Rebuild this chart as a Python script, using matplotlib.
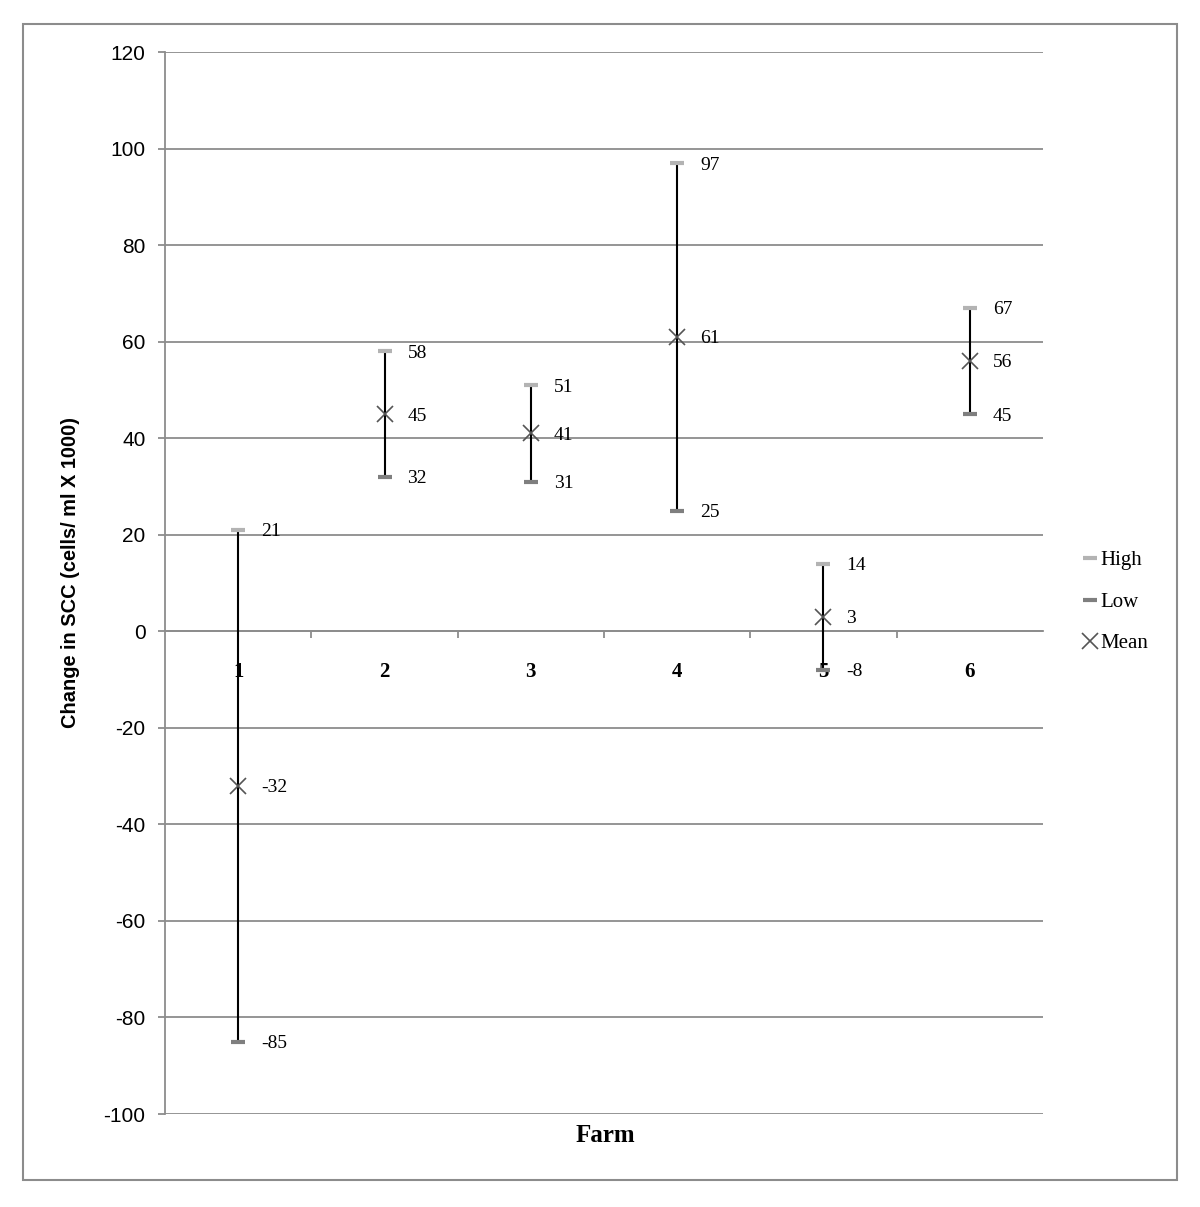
import matplotlib.pyplot as plt
from matplotlib.patches import Rectangle
import numpy as np

plt.rcParams['axes.unicode_minus'] = False

farms = ['1', '2', '3', '4', '5', '6']
high = [21, 58, 51, 97, 14, 67]
low = [-85, 32, 31, 25, -8, 45]
mean = [-32, 45, 41, 61, 3, 56]

grid_col = '#8c8c8c'
serif = 'Liberation Serif'
sans = 'Liberation Sans'

fig = plt.figure(figsize=(12, 12.07), dpi=100)
ax = fig.add_axes([165/1200, 1 - 1114/1207, 878/1200, 1062/1207])

# outer frame round the whole chart
fig.patches.append(Rectangle((23/1200, 1 - 1180/1207), 1154/1200, 1156/1207,
                             transform=fig.transFigure, fill=False,
                             edgecolor=grid_col, linewidth=1.5))

x = np.arange(len(farms))
ax.vlines(x, low, high, color='black', linewidth=1.5, zorder=3)
ax.plot(x, high, linestyle='none', marker='_', markersize=9.5,
        markeredgewidth=3, color='#b3b3b3', label='High', zorder=4)
ax.plot(x, low, linestyle='none', marker='_', markersize=9.5,
        markeredgewidth=3, color='#7f7f7f', label='Low', zorder=4)
ax.plot(x, mean, linestyle='none', marker='x', markersize=12,
        markeredgewidth=1.2, color='#555555', label='Mean', zorder=5)

for xi, vals in zip(x, zip(high, low, mean)):
    for v in vals:
        ax.annotate(str(v), (xi, v), xytext=(23, -2), textcoords='offset pixels',
                    ha='left', va='center', fontsize=14, family=serif)

ax.set_xlim(-0.5, 5.5)
ax.set_ylim(-100, 120)
ax.set_yticks(np.arange(-100, 121, 20))
ax.grid(axis='y', color=grid_col, linewidth=1.3)
ax.set_axisbelow(True)

for s in ['top', 'right']:
    ax.spines[s].set_visible(False)
ax.spines['bottom'].set_position(('data', 0))
ax.spines['bottom'].set_color(grid_col)
ax.spines['bottom'].set_linewidth(1.3)
ax.spines['left'].set_color(grid_col)
ax.spines['left'].set_linewidth(1.3)

ax.tick_params(axis='y', direction='out', length=5, color=grid_col, width=1.3,
               pad=9, labelsize=15)
for lab in ax.get_yticklabels():
    lab.set_family(sans)

ax.set_xticks(x)
ax.set_xticklabels(farms, fontsize=15, fontweight='bold', family=serif)
ax.tick_params(axis='x', which='major', length=0, pad=22)
ax.set_xticks(x[:-1] + 0.5, minor=True)
ax.tick_params(axis='x', which='minor', direction='out', length=5,
               color=grid_col, width=1.3)
for lab in ax.get_xticklabels():
    lab.set_zorder(6)

ax.set_ylabel('Change in SCC (cells/ ml X 1000)', fontsize=14.4, fontweight='bold',
              family=sans)
ax.yaxis.set_label_coords(-85/878, 0.51)
fig.text(605/1200, 1 - 1135/1207, 'Farm', ha='center', va='center',
         fontsize=18, fontweight='bold', family=serif)

ax.legend(loc='center left', bbox_to_anchor=(1.025, 0.482), frameon=False,
          handlelength=0.6, handletextpad=0.2, labelspacing=1.05,
          prop={'family': serif, 'size': 15})

fig.savefig('out.png', dpi=100)
